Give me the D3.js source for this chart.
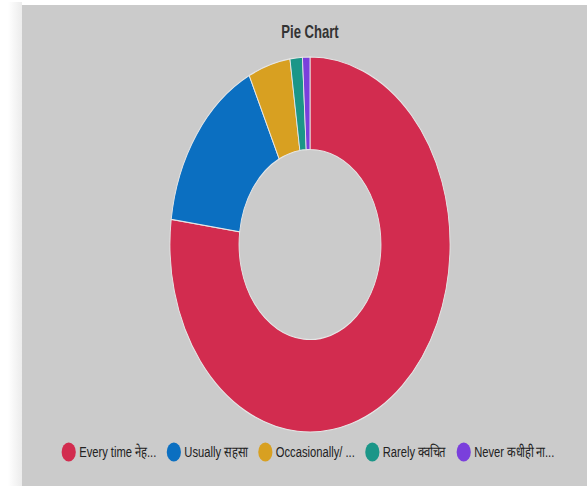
<!DOCTYPE html>
<html><head><meta charset="utf-8">
<script src="https://cdn.jsdelivr.net/npm/d3@7"></script>
<style>
html,body{margin:0;padding:0;background:#fff;}
svg{display:block;}
text{font-family:"Liberation Sans",Arial,sans-serif;}
</style></head>
<body>
<svg id="c" width="587" height="486"></svg>
<script>
const categories = ["Every time नेहमी", "Usually सहसा", "Occasionally/ कधीकधी", "Rarely क्वचित", "Never कधीही नाही"];
const legendLabels = ["Every time नेह...", "Usually सहसा", "Occasionally/ ...", "Rarely क्वचित", "Never कधीही ना..."];
const values = [270, 55, 17, 5, 3];
const colors = ["#d22c4f", "#0b6fc1", "#d8a021", "#1b9688", "#7a3fdc"];
const title = "Pie Chart";

const W = 587, H = 486, SX = 0.747;
const svg = d3.select("#c");
const defs = svg.append("defs");
const g0 = defs.append("linearGradient").attr("id","sh").attr("x1","0").attr("x2","1");
g0.append("stop").attr("offset","0").attr("stop-color","#ffffff");
g0.append("stop").attr("offset","1").attr("stop-color","#ececec");
svg.append("rect").attr("x",0).attr("y",0).attr("width",W).attr("height",H).attr("fill","#fff");
svg.append("rect").attr("x",8).attr("y",2).attr("width",14).attr("height",H).attr("fill","url(#sh)");
svg.append("rect").attr("x",22).attr("y",5).attr("width",W-22).attr("height",H-5).attr("fill","#cbcbcb");

const root = svg.append("g").attr("transform",`scale(${SX},1)`);
const cx = 310/SX, cy = 244.5, R = 187.5, r = 95;

root.append("text").attr("x",cx).attr("y",38).attr("text-anchor","middle")
  .attr("font-size",17.5).attr("font-weight","bold").attr("fill","#333").text(title);

const pie = d3.pie().sort(null).value(d=>d)(values);
const arc = d3.arc().innerRadius(r).outerRadius(R);
root.append("g").attr("transform",`translate(${cx},${cy})`)
  .selectAll("path").data(pie).join("path")
  .attr("d",arc).attr("fill",(d,i)=>colors[i])
  .attr("stroke","#e6e6e6").attr("stroke-width",1.2);

const leg = root.append("g");
const items = leg.selectAll("g").data(legendLabels).join("g");
items.append("circle").attr("r",9.5).attr("cy",0).attr("fill",(d,i)=>colors[i]);
items.append("text").attr("x",14).attr("y",5).attr("font-size",15).attr("fill","#222").text(d=>d);
const GAP = 14;
let x = 0; const pos = [];
items.each(function(d,i){
  const tw = d3.select(this).select("text").node().getComputedTextLength();
  pos.push(x); x += 9.5 + 14 + tw + GAP;
});
const total = x - GAP + 9.5;
const start = cx - total/2 + 9.5 + 2;
items.attr("transform",(d,i)=>`translate(${start+pos[i]},452)`);
</script>
</body></html>
